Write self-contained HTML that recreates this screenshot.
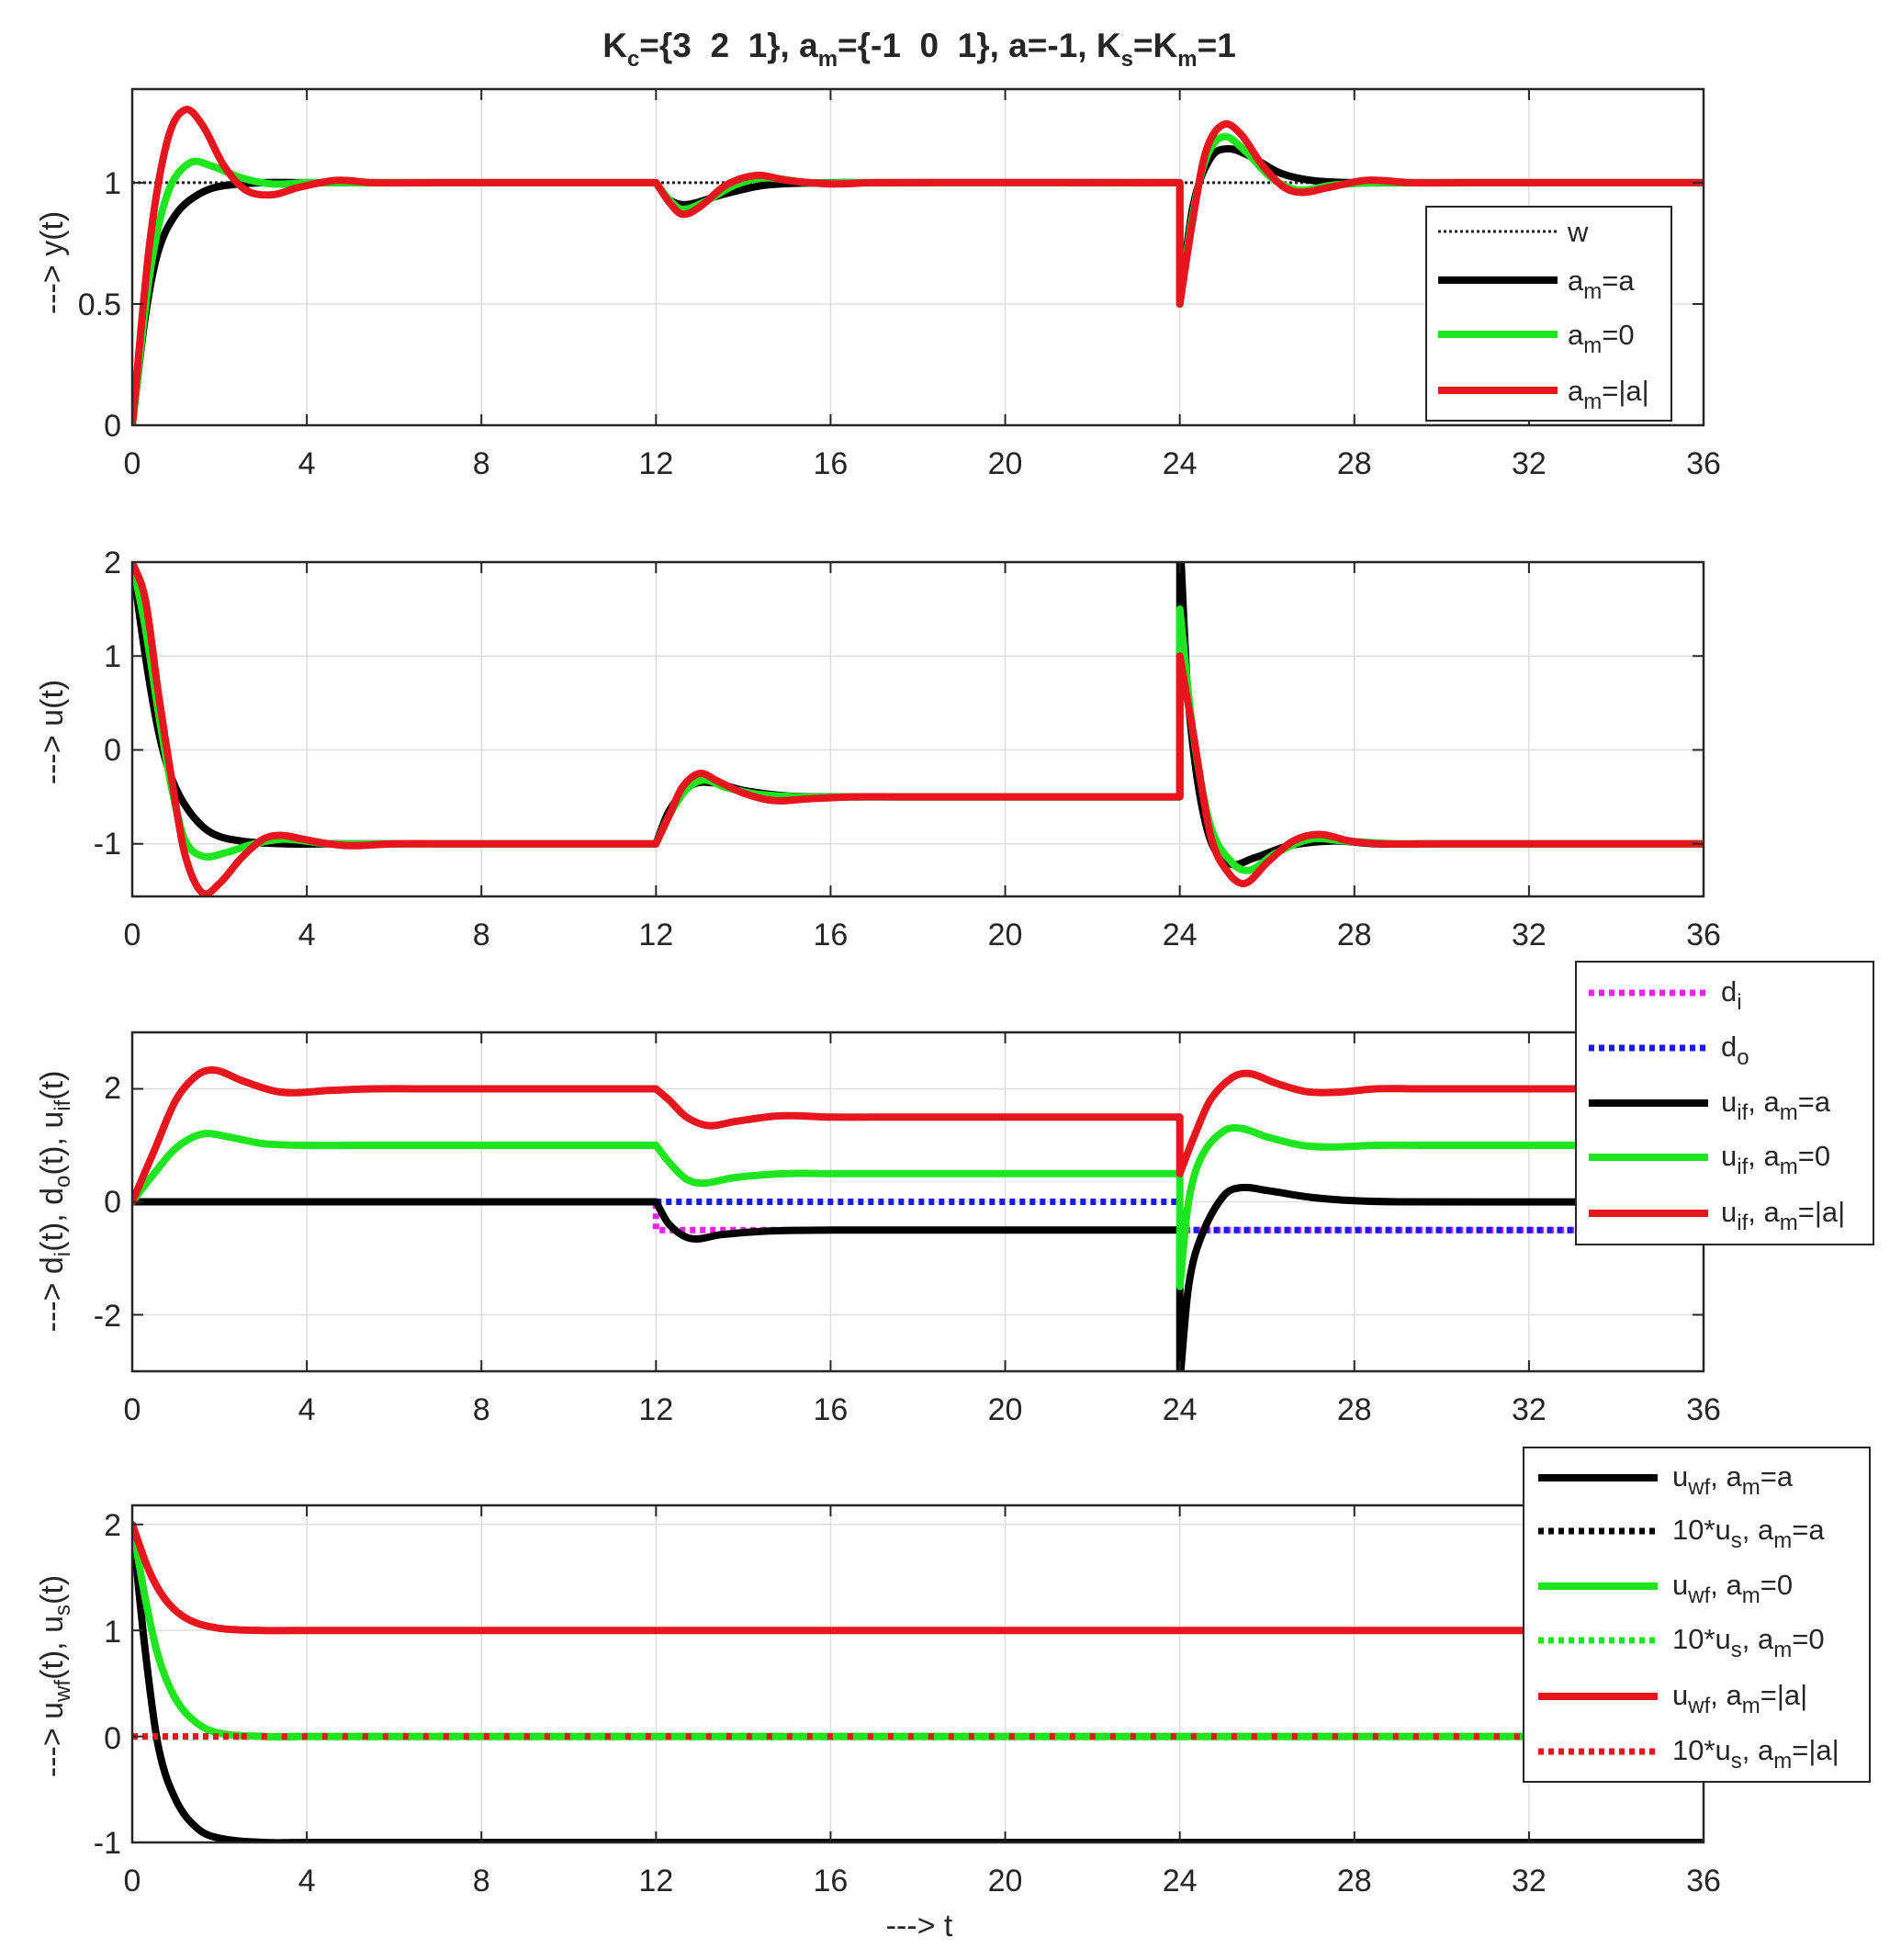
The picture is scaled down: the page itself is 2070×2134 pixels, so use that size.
<!DOCTYPE html>
<html><head><meta charset="utf-8"><style>
html,body{margin:0;padding:0;background:#fff;}
svg{display:block;font-family:"Liberation Sans",Arial,sans-serif;}
.tk{font-size:34px;fill:#262626;}
.lg{font-size:31px;fill:#262626;}
.sb{font-size:24px;}
</style></head><body>
<svg id="s" width="2070" height="2134" viewBox="0 0 2070 2134" xmlns="http://www.w3.org/2000/svg">
<defs>
<clipPath id="c1"><rect x="144" y="97" width="1711" height="366"/></clipPath>
<clipPath id="c2"><rect x="144" y="612" width="1711" height="364"/></clipPath>
<clipPath id="c3"><rect x="144" y="1124" width="1711" height="369"/></clipPath>
<clipPath id="c4"><rect x="144" y="1639" width="1711" height="367"/></clipPath>
</defs>
<g id="grid"></g>
<g id="series"></g>
<g id="frames" fill="none" stroke="#262626" stroke-width="2.5">
<rect x="144" y="97" width="1711" height="366"/>
<rect x="144" y="612" width="1711" height="364"/>
<rect x="144" y="1124" width="1711" height="369"/>
<rect x="144" y="1639" width="1711" height="367"/>
</g>
<g id="ticks" stroke="#262626" stroke-width="2"></g>

<text x="1001" y="62" text-anchor="middle" font-weight="bold" font-size="37" fill="#262626">K<tspan class="sb" dy="10">c</tspan><tspan dy="-10">={3&#160;&#160;2&#160;&#160;1}, a</tspan><tspan class="sb" dy="10">m</tspan><tspan dy="-10">={-1&#160;&#160;0&#160;&#160;1}, a=-1, K</tspan><tspan class="sb" dy="10">s</tspan><tspan dy="-10">=K</tspan><tspan class="sb" dy="10">m</tspan><tspan dy="-10">=1</tspan></text>

<g class="tk" text-anchor="middle">
<g id="xl"></g>
</g>
<g class="tk" text-anchor="end">
<text x="132" y="475">0</text><text x="132" y="343">0.5</text><text x="132" y="211">1</text>
<text x="132" y="624">2</text><text x="132" y="726">1</text><text x="132" y="828">0</text><text x="132" y="930">-1</text>
<text x="132" y="1196">2</text><text x="132" y="1320">0</text><text x="132" y="1444">-2</text>
<text x="132" y="1672">2</text><text x="132" y="1788">1</text><text x="132" y="1904">0</text><text x="132" y="2018">-1</text>
</g>
<text x="1001" y="2108" class="tk" text-anchor="middle">---&gt; t</text>

<text class="tk" transform="translate(68,286) rotate(-90)" text-anchor="middle">---&gt; y(t)</text>
<text class="tk" transform="translate(68,797) rotate(-90)" text-anchor="middle">---&gt; u(t)</text>
<text class="tk" transform="translate(68,1308) rotate(-90)" text-anchor="middle">---&gt; d<tspan class="sb" dy="8">i</tspan><tspan dy="-8">(t), d</tspan><tspan class="sb" dy="8">o</tspan><tspan dy="-8">(t), u</tspan><tspan class="sb" dy="8">if</tspan><tspan dy="-8">(t)</tspan></text>
<text class="tk" transform="translate(68,1825) rotate(-90)" text-anchor="middle">---&gt; u<tspan class="sb" dy="8">wf</tspan><tspan dy="-8">(t), u</tspan><tspan class="sb" dy="8">s</tspan><tspan dy="-8">(t)</tspan></text>

<rect x="1553" y="225" width="267" height="233" fill="#fff" stroke="#262626" stroke-width="2"/>
<line x1="1566" y1="252" x2="1696" y2="252" stroke="#222" stroke-width="3" stroke-dasharray="3 3"/>
<line x1="1566" y1="305" x2="1696" y2="305" stroke="#000" stroke-width="8"/>
<line x1="1566" y1="364" x2="1696" y2="364" stroke="#1ee61e" stroke-width="8"/>
<line x1="1566" y1="425" x2="1696" y2="425" stroke="#e8141e" stroke-width="8"/>
<g class="lg">
<text x="1707" y="263">w</text>
<text x="1707" y="316">a<tspan class="sb" dy="9">m</tspan><tspan dy="-9">=a</tspan></text>
<text x="1707" y="375">a<tspan class="sb" dy="9">m</tspan><tspan dy="-9">=0</tspan></text>
<text x="1707" y="436">a<tspan class="sb" dy="9">m</tspan><tspan dy="-9">=|a|</tspan></text>
</g>

<rect x="1716" y="1047" width="324" height="308" fill="#fff" stroke="#262626" stroke-width="2"/>
<line x1="1730" y1="1081" x2="1860" y2="1081" stroke="#f020f0" stroke-width="7" stroke-dasharray="6 5"/>
<line x1="1730" y1="1141" x2="1860" y2="1141" stroke="#1a1aee" stroke-width="7" stroke-dasharray="6 5"/>
<line x1="1730" y1="1201" x2="1860" y2="1201" stroke="#000" stroke-width="8"/>
<line x1="1730" y1="1260" x2="1860" y2="1260" stroke="#1ee61e" stroke-width="8"/>
<line x1="1730" y1="1321" x2="1860" y2="1321" stroke="#e8141e" stroke-width="8"/>
<g class="lg">
<text x="1874" y="1090">d<tspan class="sb" dy="9">i</tspan></text>
<text x="1874" y="1150">d<tspan class="sb" dy="9">o</tspan></text>
<text x="1874" y="1210">u<tspan class="sb" dy="9">if</tspan><tspan dy="-9">, a</tspan><tspan class="sb" dy="9">m</tspan><tspan dy="-9">=a</tspan></text>
<text x="1874" y="1269">u<tspan class="sb" dy="9">if</tspan><tspan dy="-9">, a</tspan><tspan class="sb" dy="9">m</tspan><tspan dy="-9">=0</tspan></text>
<text x="1874" y="1330">u<tspan class="sb" dy="9">if</tspan><tspan dy="-9">, a</tspan><tspan class="sb" dy="9">m</tspan><tspan dy="-9">=|a|</tspan></text>
</g>

<rect x="1659" y="1576" width="377" height="364" fill="#fff" stroke="#262626" stroke-width="2"/>
<line x1="1675" y1="1609" x2="1805" y2="1609" stroke="#000" stroke-width="8"/>
<line x1="1675" y1="1667" x2="1805" y2="1667" stroke="#000" stroke-width="7" stroke-dasharray="6 5"/>
<line x1="1675" y1="1727" x2="1805" y2="1727" stroke="#1ee61e" stroke-width="8"/>
<line x1="1675" y1="1786" x2="1805" y2="1786" stroke="#1ee61e" stroke-width="7" stroke-dasharray="6 5"/>
<line x1="1675" y1="1847" x2="1805" y2="1847" stroke="#e8141e" stroke-width="8"/>
<line x1="1675" y1="1907" x2="1805" y2="1907" stroke="#e8141e" stroke-width="7" stroke-dasharray="6 5"/>
<g class="lg">
<text x="1821" y="1618">u<tspan class="sb" dy="9">wf</tspan><tspan dy="-9">, a</tspan><tspan class="sb" dy="9">m</tspan><tspan dy="-9">=a</tspan></text>
<text x="1821" y="1676">10*u<tspan class="sb" dy="9">s</tspan><tspan dy="-9">, a</tspan><tspan class="sb" dy="9">m</tspan><tspan dy="-9">=a</tspan></text>
<text x="1821" y="1736">u<tspan class="sb" dy="9">wf</tspan><tspan dy="-9">, a</tspan><tspan class="sb" dy="9">m</tspan><tspan dy="-9">=0</tspan></text>
<text x="1821" y="1795">10*u<tspan class="sb" dy="9">s</tspan><tspan dy="-9">, a</tspan><tspan class="sb" dy="9">m</tspan><tspan dy="-9">=0</tspan></text>
<text x="1821" y="1856">u<tspan class="sb" dy="9">wf</tspan><tspan dy="-9">, a</tspan><tspan class="sb" dy="9">m</tspan><tspan dy="-9">=|a|</tspan></text>
<text x="1821" y="1916">10*u<tspan class="sb" dy="9">s</tspan><tspan dy="-9">, a</tspan><tspan class="sb" dy="9">m</tspan><tspan dy="-9">=|a|</tspan></text>
</g>
</svg>
<script>
(function(){
var NS="http://www.w3.org/2000/svg";
var X0=144,X1=1855;
function px(t){return X0+(X1-X0)*t/36;}
var axes=[
 {top:97,bot:463,ymin:0,ymax:1.386,yt:[0,0.5,1],clip:"c1"},
 {top:612,bot:976,ymin:-1.56,ymax:2,yt:[-1,0,1,2],clip:"c2"},
 {top:1124,bot:1493,ymin:-3,ymax:3,yt:[-2,0,2],clip:"c3"},
 {top:1639,bot:2006,ymin:-1,ymax:2.18,yt:[-1,0,1,2],clip:"c4"}
];
function el(n,a,p){var e=document.createElementNS(NS,n);for(var k in a)e.setAttribute(k,a[k]);p.appendChild(e);return e;}
var grid=document.getElementById('grid'),ticks=document.getElementById('ticks'),xl=document.getElementById('xl'),ser=document.getElementById('series');
axes.forEach(function(a){
 a.py=function(v){return a.bot-(a.bot-a.top)*(v-a.ymin)/(a.ymax-a.ymin);};
 for(var t=4;t<36;t+=4){var x=px(t);el('line',{x1:x,x2:x,y1:a.top,y2:a.bot,stroke:'#dedede','stroke-width':1.5},grid);
  el('line',{x1:x,x2:x,y1:a.bot,y2:a.bot-12},ticks);el('line',{x1:x,x2:x,y1:a.top,y2:a.top+12},ticks);}
 a.yt.forEach(function(v){var y=a.py(v);el('line',{x1:X0,x2:X1,y1:y,y2:y,stroke:'#dedede','stroke-width':1.5},grid);
  el('line',{x1:X0,x2:X0+12,y1:y,y2:y},ticks);el('line',{x1:X1,x2:X1-12,y1:y,y2:y},ticks);});
 for(var t=0;t<=36;t+=4){var tx=el('text',{x:px(t),y:a.bot+53},xl);tx.textContent=String(t);}
});
function path(a,segs){
 var d="";
 segs.forEach(function(s,si){
  var P=s.map(function(p){return [px(p[0]),a.py(p[1])];});
  var n=P.length,m=[];
  for(var i=0;i<n;i++){
   var i0=i>0?i-1:i,i1=i<n-1?i+1:i;
   var dx=P[i1][0]-P[i0][0];
   m.push(dx>0?(P[i1][1]-P[i0][1])/dx:0);
  }
  d+=(si==0?"M":"L")+P[0][0].toFixed(1)+","+P[0][1].toFixed(1);
  for(var i=0;i<n-1;i++){
   var p1=P[i],p2=P[i+1],h=(p2[0]-p1[0])/3;
   var c1=[p1[0]+h,p1[1]+m[i]*h],c2=[p2[0]-h,p2[1]-m[i+1]*h];
   d+="C"+c1[0].toFixed(1)+","+c1[1].toFixed(1)+" "+c2[0].toFixed(1)+","+c2[1].toFixed(1)+" "+p2[0].toFixed(1)+","+p2[1].toFixed(1);
  }
 });
 return d;
}
var K='#000',G='#1ee61e',R='#e8141e',M='#f020f0',B='#1a1aee';
function draw(ai,segs,col,w,dash,off){
 var a=axes[ai];
 var at={d:path(a,segs),fill:'none',stroke:col,'stroke-width':w,'stroke-linejoin':'round','clip-path':'url(#'+a.clip+')'};
 if(dash){at['stroke-dasharray']=dash;if(off)at['stroke-dashoffset']=off;}else at['stroke-linecap']='round';
 el('path',at,ser);
}
draw(0,[[[0,1],[36,1]]],'#222',3,'3 3');
draw(0,[[[0,0],[0.3,0.45],[0.6,0.72],[1,0.87],[1.5,0.95],[2,0.985],[3,1],[4,1],[12,1]],
 [[12,1],[12.3,0.93],[12.7,0.91],[13.5,0.95],[14.5,0.99],[16,1],[17,1],[24,1]],
 [[24,0.5],[24.3,0.9],[24.7,1.1],[25.1,1.14],[25.6,1.11],[26.3,1.04],[27,1.01],[28,1],[29,1],[36,1]]],K,8);
draw(0,[[[0,0],[0.4,0.62],[0.8,0.95],[1.3,1.08],[1.8,1.07],[2.5,1.02],[3.2,0.995],[4,1],[5,1],[12,1]],
 [[12,1],[12.3,0.93],[12.6,0.89],[13.1,0.92],[13.8,0.99],[14.5,1.02],[15.5,1.0],[16.5,1],[24,1]],
 [[24,0.5],[24.3,0.87],[24.6,1.1],[25.0,1.19],[25.5,1.13],[26.1,1.02],[26.7,0.97],[27.5,0.99],[28.5,1.0],[29.5,1],[36,1]]],G,8);
draw(0,[[[0,0],[0.4,0.75],[0.8,1.17],[1.2,1.3],[1.6,1.24],[2.1,1.07],[2.6,0.97],[3.2,0.95],[3.8,0.98],[4.7,1.01],[5.5,1.0],[7,1],[12,1]],
 [[12,1],[12.3,0.92],[12.6,0.87],[13.0,0.9],[13.6,0.99],[14.3,1.03],[15.0,1.01],[16,0.995],[17,1],[24,1]],
 [[24,0.5],[24.3,0.85],[24.6,1.13],[25,1.24],[25.4,1.2],[25.9,1.07],[26.4,0.98],[26.8,0.96],[27.4,0.98],[28.3,1.01],[29.3,1.0],[30.5,1],[36,1]]],R,8);
draw(1,[[[0,2],[0.3,1.0],[0.6,0.2],[0.9,-0.3],[1.3,-0.65],[1.8,-0.88],[2.5,-0.97],[3.5,-1.0],[4.5,-1],[12,-1]],
 [[12,-1],[12.3,-0.65],[12.8,-0.38],[13.3,-0.35],[14,-0.43],[15,-0.49],[16,-0.5],[17,-0.5],[24,-0.5]],
 [[24,2.3],[24.2,0.5],[24.6,-0.8],[25.1,-1.2],[25.7,-1.15],[26.5,-1.02],[27.5,-0.97],[28.5,-1.0],[29.5,-1],[36,-1]]],K,8);
draw(1,[[[0,2],[0.3,1.3],[0.6,0.4],[0.9,-0.4],[1.2,-0.95],[1.6,-1.13],[2.1,-1.1],[2.8,-1.0],[3.5,-0.95],[4.5,-1.0],[5.5,-1],[12,-1]],
 [[12,-1],[12.3,-0.7],[12.7,-0.42],[13.1,-0.32],[13.6,-0.4],[14.3,-0.47],[15.3,-0.5],[16.3,-0.5],[24,-0.5]],
 [[24,1.5],[24.3,0.2],[24.7,-0.8],[25.2,-1.2],[25.6,-1.28],[26.2,-1.1],[27,-0.95],[27.8,-0.97],[29,-1],[30,-1],[36,-1]]],G,8);
draw(1,[[[0,2],[0.3,1.6],[0.6,0.6],[0.9,-0.3],[1.2,-1.1],[1.6,-1.52],[2.0,-1.42],[2.5,-1.15],[3.0,-0.95],[3.4,-0.91],[3.9,-0.95],[4.5,-1.0],[5,-1.02],[6,-1],[7,-1],[12,-1]],
 [[12,-1],[12.3,-0.7],[12.6,-0.4],[13.0,-0.25],[13.4,-0.33],[14,-0.46],[14.7,-0.54],[15.5,-0.52],[16.5,-0.5],[17.5,-0.5],[24,-0.5]],
 [[24,1],[24.3,0.2],[24.7,-0.9],[25.1,-1.3],[25.5,-1.42],[26,-1.2],[26.6,-0.97],[27.2,-0.9],[27.9,-0.97],[28.6,-1.0],[30,-1],[31,-1],[36,-1]]],R,8);
draw(2,[[[0,0],[12,0]],[[12,-0.5],[36,-0.5]]],M,7,'6 5');
draw(2,[[[12,0],[24,0]],[[24,-0.5],[36,-0.5]]],B,7,'6 5');
draw(2,[[[0,0],[12,0]],
 [[12,0],[12.3,-0.4],[12.8,-0.65],[13.5,-0.58],[14.5,-0.52],[16,-0.5],[17,-0.5],[24,-0.5]],
 [[24,-3.2],[24.2,-1.5],[24.5,-0.6],[25,0.1],[25.4,0.25],[26,0.2],[27,0.08],[28,0.02],[29,0],[36,0]]],K,8);
draw(2,[[[0,0],[0.5,0.5],[1,0.95],[1.6,1.2],[2.2,1.15],[3,1.03],[4,1.0],[5,1],[12,1]],
 [[12,1],[12.3,0.7],[12.7,0.4],[13.1,0.33],[13.8,0.43],[15,0.5],[16,0.5],[24,0.5]],
 [[24,-1.5],[24.2,0],[24.5,0.8],[25,1.25],[25.4,1.3],[26,1.15],[26.8,1.0],[27.5,0.97],[28.5,1.0],[29.5,1],[36,1]]],G,8);
draw(2,[[[0,0],[0.5,0.9],[1,1.8],[1.5,2.25],[1.9,2.33],[2.5,2.15],[3.2,1.97],[3.7,1.93],[4.5,1.97],[5.5,2.0],[6.5,2],[12,2]],
 [[12,2],[12.3,1.8],[12.7,1.5],[13.2,1.35],[13.8,1.42],[14.8,1.52],[16,1.5],[17,1.5],[24,1.5]],
 [[24,0.5],[24.3,1.1],[24.7,1.8],[25.2,2.2],[25.6,2.27],[26.2,2.1],[26.9,1.95],[27.6,1.94],[28.5,2.0],[29.5,2],[36,2]]],R,8);
draw(3,[[[0,2],[0.3,0.8],[0.6,-0.1],[1,-0.6],[1.5,-0.87],[2,-0.96],[3,-1.0],[4,-1],[36,-1]]],K,8);
draw(3,[[[0,2],[0.3,1.3],[0.6,0.75],[1,0.35],[1.5,0.12],[2,0.03],[3,0],[4,0],[36,0]]],G,8);
draw(3,[[[0,2],[0.4,1.55],[0.8,1.27],[1.3,1.1],[2,1.02],[3,1.0],[4,1],[36,1]]],R,8);
draw(3,[[[0,0],[36,0]]],K,7,'6 5');
draw(3,[[[0,0],[36,0]]],G,7,'6 5');
draw(3,[[[0,0],[2.5,0]]],R,7,'6 5');
draw(3,[[[2.5,0],[36,0]]],R,7,'6 16');
})();
</script>
</body></html>
